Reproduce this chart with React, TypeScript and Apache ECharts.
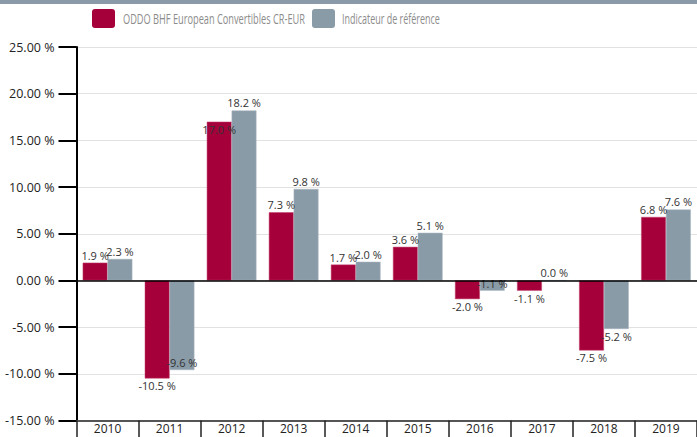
import React, { useEffect, useRef } from "react";
import * as echarts from "echarts";

const categories = ["2010", "2011", "2012", "2013", "2014", "2015", "2016", "2017", "2018", "2019"];
const fundValues = [1.9, -10.5, 17.0, 7.3, 1.7, 3.6, -2.0, -1.1, -7.5, 6.8];
const benchValues = [2.3, -9.6, 18.2, 9.8, 2.0, 5.1, -1.1, 0.0, -5.2, 7.6];
const seriesNames = ["ODDO BHF European Convertibles CR-EUR", "Indicateur de référence"];
const fundInsideIdx = [2];
const benchInsideIdx = [1, 6];

const RED = "#a6003b";
const GRAY = "#8a9ba8";
const LEGEND_FONT = "14px Open Sans";

function buildData(values: number[], inside: number[]) {
  return values.map((v, i) => {
    let position = v >= 0 ? "top" : "bottom";
    if (inside.includes(i)) position = v >= 0 ? "insideTop" : "insideBottom";
    return { value: v, label: { position } };
  });
}

function measure(text: string) {
  const c = document.createElement("canvas").getContext("2d");
  if (!c) return text.length * 7.5;
  c.font = LEGEND_FONT;
  return c.measureText(text).width;
}

export default function App() {
  const ref = useRef<HTMLDivElement>(null);
  useEffect(() => {
    const chart = echarts.init(ref.current!, null, { renderer: "svg" });
    const labelCfg = {
      show: true,
      fontFamily: "Open Sans",
      fontSize: 11,
      color: "#333",
      distance: 2,
      formatter: (p: any) => Number(p.value).toFixed(1) + " %",
    };
    const legendItems = [
      { color: RED, boxX: 92, textX: 123, textW: 182, name: seriesNames[0] },
      { color: GRAY, boxX: 312, textX: 342, textW: 98, name: seriesNames[1] },
    ];
    const legendGraphics: any[] = [];
    legendItems.forEach((it) => {
      legendGraphics.push({
        type: "rect",
        shape: { x: it.boxX, y: 9, width: 23, height: 19, r: 3 },
        style: { fill: it.color },
      });
      const w = measure(it.name);
      legendGraphics.push({
        type: "text",
        x: it.textX,
        y: 18.5,
        scaleX: it.textW / w,
        style: {
          text: it.name,
          fill: "#8c8c8c",
          fontSize: 14,
          fontFamily: "Open Sans",
          verticalAlign: "middle",
          align: "left",
        },
      });
    });
    chart.setOption({
      animation: false,
      backgroundColor: "#fff",
      textStyle: { fontFamily: "Open Sans" },
      graphic: [
        { type: "rect", shape: { x: 0, y: 0, width: 697, height: 4 }, style: { fill: "#8a9aa8" }, z: 100 },
        ...legendGraphics,
      ],
      legend: { show: false, data: seriesNames },
      grid: { left: 76.5, right: -8, top: 47, bottom: 16.5, containLabel: false },
      xAxis: {
        type: "category",
        data: categories,
        position: "bottom",
        axisLine: { show: true, onZero: false, lineStyle: { color: "#555", width: 2 } },
        axisTick: { show: true, length: 17, lineStyle: { color: "#222", width: 1.5 } },
        axisLabel: { color: "#222", fontSize: 12, margin: 2, fontFamily: "Open Sans" },
      },
      yAxis: {
        type: "value",
        min: -15,
        max: 25,
        interval: 5,
        axisLine: { show: true, lineStyle: { color: "#000", width: 2 } },
        axisTick: { show: true, length: 18, lineStyle: { color: "#000", width: 2 } },
        axisLabel: {
          color: "#222",
          fontSize: 12.5,
          margin: 22,
          fontFamily: "Open Sans",
          formatter: (v: number) => v.toFixed(2) + " %",
        },
        splitLine: { show: true, lineStyle: { color: "#e2e2e2", width: 1 } },
      },
      series: [
        {
          name: seriesNames[0],
          type: "bar",
          data: buildData(fundValues, fundInsideIdx),
          itemStyle: { color: RED, borderColor: "#c0406a", borderWidth: 0.5 },
          barGap: "0%",
          barCategoryGap: "20%",
          label: labelCfg,
          markLine: {
            silent: true,
            symbol: "none",
            label: { show: false },
            lineStyle: { color: "#000", width: 1.5, type: "solid" },
            data: [{ yAxis: 0 }],
            z: 10,
          },
        },
        {
          name: seriesNames[1],
          type: "bar",
          data: buildData(benchValues, benchInsideIdx),
          itemStyle: { color: GRAY, borderColor: "#a8b6c0", borderWidth: 0.5 },
          barGap: "0%",
          barCategoryGap: "20%",
          label: labelCfg,
        },
      ],
    });
    return () => chart.dispose();
  }, []);
  return (
    <div
      ref={ref}
      style={{ position: "fixed", left: 0, top: 0, width: 697, height: 437 }}
    />
  );
}
